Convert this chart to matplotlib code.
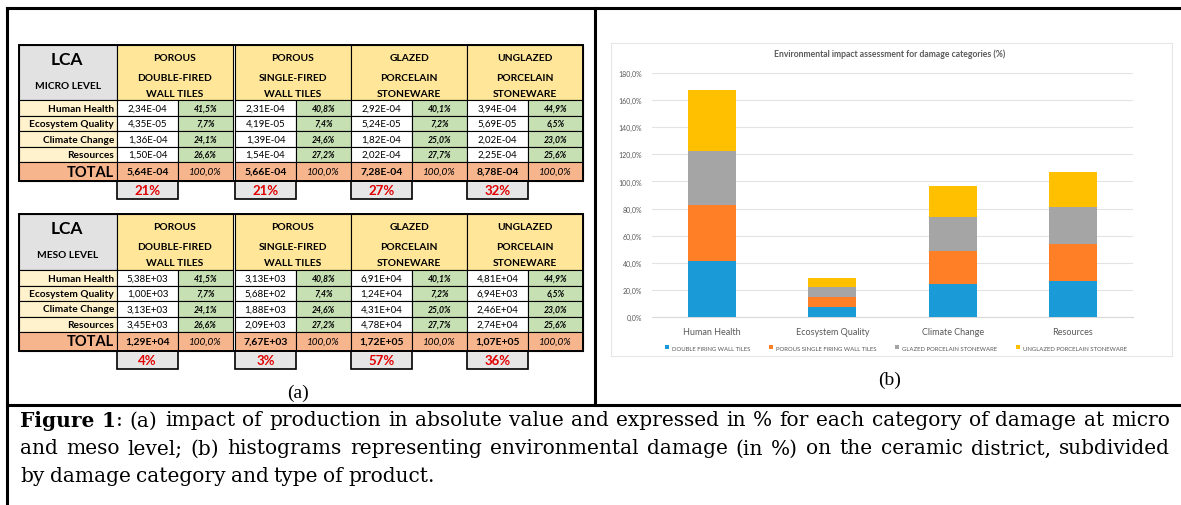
"""Figure 1: LCA tables (micro / meso level) and stacked damage-category chart."""

import matplotlib
matplotlib.use("Agg")
import matplotlib.pyplot as plt
import numpy as np
from matplotlib.patches import Rectangle

# ---------------------------------------------------------------- data
products = [
    ["POROUS", "DOUBLE-FIRED", "WALL TILES"],
    ["POROUS", "SINGLE-FIRED", "WALL TILES"],
    ["GLAZED", "PORCELAIN", "STONEWARE"],
    ["UNGLAZED", "PORCELAIN", "STONEWARE"],
]
legend_labels = [
    "DOUBLE FIRING WALL TILES",
    "POROUS SINGLE FIRING WALL TILES",
    "GLAZED PORCELAIN STONEWARE",
    "UNGLAZED PORCELAIN STONEWARE",
]
categories = ["Human Health", "Ecosystem Quality", "Climate Change", "Resources"]

micro_values = [
    [2.34e-4, 4.35e-5, 1.36e-4, 1.50e-4],
    [2.31e-4, 4.19e-5, 1.39e-4, 1.54e-4],
    [2.92e-4, 5.24e-5, 1.82e-4, 2.02e-4],
    [3.94e-4, 5.69e-5, 2.02e-4, 2.25e-4],
]
micro_totals = [5.64e-4, 5.66e-4, 7.28e-4, 8.78e-4]
micro_shares = [21, 21, 27, 32]

meso_values = [
    [5.38e3, 1.00e3, 3.13e3, 3.45e3],
    [3.13e3, 5.68e2, 1.88e3, 2.09e3],
    [6.91e4, 1.24e4, 4.31e4, 4.78e4],
    [4.81e4, 6.94e3, 2.46e4, 2.74e4],
]
meso_totals = [1.29e4, 7.67e3, 1.72e5, 1.07e5]
meso_shares = [4, 3, 57, 36]

# share of each damage category per product (%), same at both levels
category_pct = [
    [41.5, 7.7, 24.1, 26.6],
    [40.8, 7.4, 24.6, 27.2],
    [40.1, 7.2, 25.0, 27.7],
    [44.9, 6.5, 23.0, 25.6],
]

y_ticks = [0, 20, 40, 60, 80, 100, 120, 140, 160, 180]

caption_lines = [
    [[("Figure", "bold")], [("1", "bold"), (":", "normal")], "(a)", "impact", "of", "production", "in",
     "absolute", "value", "and", "expressed", "in", "%", "for", "each", "category", "of", "damage", "at", "micro"],
    ["and", "meso", "level;", "(b)", "histograms", "representing", "environmental", "damage", "(in", "%)",
     "on", "the", "ceramic", "district,", "subdivided"],
    ["by", "damage", "category", "and", "type", "of", "product."],
]

# ---------------------------------------------------------------- style
W, H = 1181, 506
SANS = ["Lato", "DejaVu Sans"]
SERIF = ["DejaVu Serif"]
plt.rcParams["font.family"] = SANS

C_HEAD = "#FFE699"
C_LCA = "#E2E2E2"
C_LABEL = "#FFF2CC"
C_PCT = "#C6E0B4"
C_TOTAL = "#F7B58E"
C_SHARE = "#E6E6E6"
BAR_COLORS = ["#1A9AD6", "#FF7F27", "#A5A5A5", "#FFC000"]
GREY_TXT = "#595959"

COL_X = [117, 235, 351, 467]
COL_W = 116
VAL_W = 61


def sci(v):
    return f"{v:.2E}".replace(".", ",")


def pct(v):
    return f"{v:.1f}%".replace(".", ",")


def cell(ax, x, y, w, h, fc, lw=0.8):
    ax.add_patch(Rectangle((x, y), w, h, facecolor=fc, edgecolor="black", lw=lw))


def draw_table(ax, top, level, values, totals, shares):
    head_h = 55 if level == "MICRO LEVEL" else 56
    row_y = [top + head_h + 15.5 * i for i in range(5)]
    tot_y = row_y[4]
    tot_h = 19
    share_y = tot_y + tot_h

    cell(ax, 19, top, 98, head_h, C_LCA)
    ax.text(67, top + 14, "LCA", ha="center", va="center", fontsize=12.5, fontweight="bold")
    ax.text(68, top + 40, level, ha="center", va="center", fontsize=7.3, fontweight="bold")

    for r, cat in enumerate(categories):
        cell(ax, 19, row_y[r], 98, 15.5, C_LABEL)
        ax.text(114, row_y[r] + 8, cat, ha="right", va="center", fontsize=7.3, fontweight="bold")
    cell(ax, 19, tot_y, 98, tot_h, C_TOTAL)
    ax.text(114, tot_y + 9.5, "TOTAL", ha="right", va="center", fontsize=10.5, fontweight="bold")

    for p, x in enumerate(COL_X):
        cell(ax, x, top, COL_W, head_h, C_HEAD)
        for k, dy in enumerate([12, 32, 48]):
            ax.text(x + COL_W / 2, top + dy, products[p][k], ha="center", va="center",
                    fontsize=7.4, fontweight="bold")
        for r in range(4):
            cell(ax, x, row_y[r], VAL_W, 15.5, "white")
            cell(ax, x + VAL_W, row_y[r], COL_W - VAL_W, 15.5, C_PCT)
            ax.text(x + VAL_W / 2, row_y[r] + 8, sci(values[p][r]), ha="center", va="center", fontsize=7)
            ax.text(x + VAL_W + (COL_W - VAL_W) / 2, row_y[r] + 8, pct(category_pct[p][r]),
                    ha="center", va="center", fontsize=6.2, fontweight="bold", style="italic")
        cell(ax, x, tot_y, VAL_W, tot_h, C_TOTAL)
        cell(ax, x + VAL_W, tot_y, COL_W - VAL_W, tot_h, C_TOTAL)
        ax.text(x + VAL_W / 2, tot_y + 9.5, sci(totals[p]), ha="center", va="center",
                fontsize=7.5, fontweight="bold")
        ax.text(x + VAL_W + (COL_W - VAL_W) / 2, tot_y + 9.5, "100,0%", ha="center", va="center",
                fontsize=7.2, style="italic")
        cell(ax, x, share_y, VAL_W, 18, C_SHARE, lw=1.2)
        ax.text(x + VAL_W / 2, share_y + 9, f"{shares[p]}%", ha="center", va="center",
                fontsize=9.5, fontweight="bold", color="#E00000")

    ax.add_patch(Rectangle((19, top), 564, tot_y + tot_h - top, fill=False, edgecolor="black", lw=1.4))


def justified(ax, fig, y, words, x0, x1, size, justify=True):
    renderer = fig.canvas.get_renderer()
    items = []
    for w in words:
        segs = [(w, "normal")] if isinstance(w, str) else w
        arts = []
        width = 0
        for txt, weight in segs:
            t = ax.text(0, y, txt, fontsize=size, fontweight=weight, family=SERIF, va="center", ha="left")
            wd = t.get_window_extent(renderer).width
            arts.append((t, wd))
            width += wd
        items.append((arts, width))
    total = sum(w for _, w in items)
    gap = (x1 - x0 - total) / (len(items) - 1) if justify else size * 0.36
    x = x0
    for arts, width in items:
        xx = x
        for t, wd in arts:
            t.set_x(xx)
            xx += wd
        x += width + gap


# ---------------------------------------------------------------- figure
fig = plt.figure(figsize=(W / 100, H / 100), dpi=100)
ax0 = fig.add_axes([0, 0, 1, 1])
ax0.set_xlim(0, W)
ax0.set_ylim(H, 0)
ax0.axis("off")

# frame
ax0.plot([7, W], [9, 9], color="black", lw=2.2)
ax0.plot([7, 7], [9, H], color="black", lw=2.2)
ax0.plot([595, 595], [9, 406], color="black", lw=2.2)
ax0.plot([7, W], [406, 406], color="black", lw=2.2)

draw_table(ax0, 46, "MICRO LEVEL", micro_values, micro_totals, micro_shares)
draw_table(ax0, 215, "MESO LEVEL", meso_values, meso_totals, meso_shares)

ax0.text(298, 393, "(a)", ha="center", va="center", fontsize=14, family=["Liberation Serif"])
ax0.text(890, 380, "(b)", ha="center", va="center", fontsize=14, family=["Liberation Serif"])

# chart area border
ax0.add_patch(Rectangle((611, 44), 561, 313, facecolor="white", edgecolor="#E6E6E6", lw=0.8))
ax0.text(890, 54, "Environmental impact assessment for damage categories (%)", ha="center", va="center",
         fontsize=6.2, fontweight="bold", color=GREY_TXT)

# caption
for i, words in enumerate(caption_lines):
    justified(ax0, fig, 421 + 28 * i, words, 20, 1170, 14.5, justify=(i < len(caption_lines) - 1))

# stacked bars
ax = fig.add_axes([652 / W, 1 - 318 / H, 481 / W, 244 / H])
x = np.arange(len(categories))
bottom = np.zeros(len(categories))
for p in range(len(products)):
    vals = np.array(category_pct[p])
    ax.bar(x, vals, 0.4, bottom=bottom, color=BAR_COLORS[p], label=legend_labels[p], zorder=3)
    bottom += vals

ax.set_xlim(-0.5, 3.5)
ax.set_ylim(0, 180)
ax.set_yticks(y_ticks)
ax.set_yticklabels([f"{t:.1f}%".replace(".", ",") for t in y_ticks], fontsize=5, color=GREY_TXT)
ax.set_xticks(x)
ax.set_xticklabels(categories, fontsize=6.5, color=GREY_TXT)
ax.tick_params(length=0, pad=7)
ax.grid(axis="y", color="#E3E3E3", lw=0.8, zorder=0)
for s in ["top", "right", "left"]:
    ax.spines[s].set_visible(False)
ax.spines["bottom"].set_color("#D9D9D9")
ax.set_facecolor("none")

fig.legend(loc="center", bbox_to_anchor=(896 / W, 1 - 349 / H), ncol=4, frameon=False,
           fontsize=4.3, handlelength=0.6, handleheight=0.6, columnspacing=3.2, handletextpad=0.5,
           labelcolor=GREY_TXT)

fig.savefig("out.png", dpi=100)
